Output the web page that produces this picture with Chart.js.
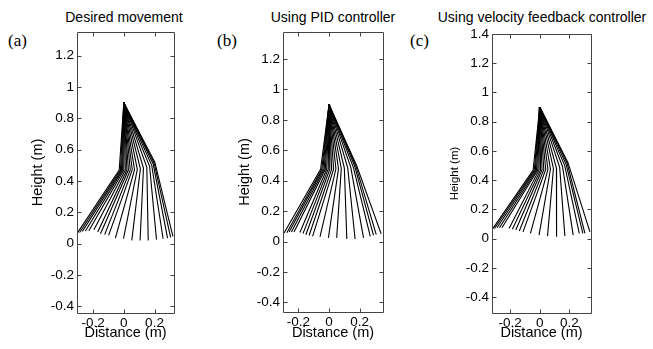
<!DOCTYPE html>
<html>
<head>
<meta charset="utf-8">
<script src="https://cdn.jsdelivr.net/npm/chart.js@4.4.1/dist/chart.umd.min.js"></script>
<style>
  body { margin: 0; background: #fff; width: 653px; height: 349px; position: relative; overflow: hidden;
         font-family: "Liberation Sans", Arial, sans-serif; }
  canvas { position: absolute; top: 0; }
  .ttl { position: absolute; top: 9px; font-size: 14px; line-height: 16px; white-space: nowrap;
         transform: translateX(-50%); color: #000; }
  .tag { position: absolute; top: 31px; font-family: "Liberation Serif", "Times New Roman", serif;
         font-size: 17px; line-height: 20px; color: #000; }
</style>
</head>
<body>
<div class="ttl" style="left:124px">Desired movement</div>
<div class="ttl" style="left:333px">Using PID controller</div>
<div class="ttl" style="left:542px">Using velocity feedback controller</div>
<div class="tag" style="left:8px">(a)</div>
<div class="tag" style="left:217px">(b)</div>
<div class="tag" style="left:410px">(c)</div>
<canvas id="chartA" width="200" height="349" style="left:0px"></canvas>
<canvas id="chartB" width="200" height="349" style="left:205px"></canvas>
<canvas id="chartC" width="243" height="349" style="left:410px"></canvas>
<script>
// hip joint (same for every frame)
const hip = [0, 0.9];

// (a) desired movement
const kneeXA = [-0.030, -0.022, -0.015, -0.008, 0.000, 0.010, 0.020, 0.030, 0.042, 0.055, 0.070, 0.088, 0.108, 0.128, 0.150, 0.168, 0.182, 0.192, 0.198, 0.202];
const kneeYA = [0.470, 0.470, 0.470, 0.470, 0.470, 0.470, 0.470, 0.470, 0.471, 0.472, 0.473, 0.475, 0.478, 0.482, 0.488, 0.494, 0.500, 0.507, 0.514, 0.520];
const footXA = [-0.303, -0.288, -0.270, -0.250, -0.228, -0.195, -0.170, -0.152, -0.125, -0.099, -0.055, -0.002, 0.052, 0.106, 0.159, 0.213, 0.256, 0.285, 0.305, 0.320];
const footYA = [0.068, 0.072, 0.079, 0.081, 0.083, 0.089, 0.075, 0.064, 0.058, 0.053, 0.036, 0.032, 0.021, 0.021, 0.021, 0.026, 0.032, 0.036, 0.040, 0.047];

// (b) PID controller
const kneeXB = [-0.055, -0.047, -0.040, -0.032, -0.024, -0.015, -0.005, 0.005, 0.017, 0.030, 0.045, 0.062, 0.080, 0.100, 0.122, 0.142, 0.158, 0.168, 0.175, 0.180];
const kneeYB = [0.475, 0.475, 0.475, 0.475, 0.475, 0.475, 0.475, 0.476, 0.476, 0.477, 0.478, 0.479, 0.480, 0.482, 0.484, 0.487, 0.490, 0.494, 0.497, 0.500];
const footXB = [-0.293, -0.275, -0.260, -0.245, -0.228, -0.190, -0.170, -0.151, -0.130, -0.107, -0.059, -0.004, 0.050, 0.116, 0.170, 0.225, 0.269, 0.290, 0.308, 0.340];
const footYB = [0.056, 0.058, 0.062, 0.062, 0.062, 0.060, 0.052, 0.045, 0.040, 0.034, 0.030, 0.024, 0.024, 0.017, 0.017, 0.024, 0.034, 0.040, 0.045, 0.050];

// (c) velocity feedback controller
const kneeXC = [-0.045, -0.037, -0.030, -0.022, -0.014, -0.005, 0.005, 0.015, 0.027, 0.040, 0.055, 0.072, 0.092, 0.112, 0.134, 0.153, 0.168, 0.178, 0.185, 0.190];
const kneeYC = [0.470, 0.470, 0.470, 0.470, 0.470, 0.470, 0.470, 0.471, 0.472, 0.473, 0.474, 0.476, 0.479, 0.483, 0.488, 0.494, 0.500, 0.507, 0.514, 0.520];
const footXC = [-0.320, -0.305, -0.288, -0.272, -0.255, -0.207, -0.185, -0.162, -0.138, -0.113, -0.063, -0.005, 0.052, 0.113, 0.169, 0.225, 0.266, 0.290, 0.304, 0.338];
const footYC = [0.064, 0.070, 0.075, 0.075, 0.075, 0.070, 0.065, 0.059, 0.053, 0.047, 0.036, 0.025, 0.018, 0.013, 0.018, 0.025, 0.036, 0.036, 0.036, 0.047];

// tick values
const xTicks = [-0.2, 0, 0.2];
const yTicksAB = [-0.4, -0.2, 0, 0.2, 0.4, 0.6, 0.8, 1, 1.2];
const yTicksC = [-0.4, -0.2, 0, 0.2, 0.4, 0.6, 0.8, 1, 1.2, 1.4];

const fmt = v => String(Number(v.toFixed(1)) || 0);

// box with inward tick marks, like matlab axes
const boxTicks = {
  id: 'boxTicks',
  afterDraw(chart) {
    const ctx = chart.ctx;
    const a = chart.chartArea;
    const x = chart.scales.x, y = chart.scales.y;
    const L = Math.round(a.left) + 0.5, R = Math.round(a.right) + 0.5;
    const T = Math.round(a.top) + 0.5, B = Math.round(a.bottom) + 0.5;
    ctx.save();
    ctx.strokeStyle = '#444';
    ctx.lineWidth = 1;
    ctx.beginPath();
    xTicks.forEach(v => {
      const p = Math.round(x.getPixelForValue(v)) + 0.5;
      ctx.moveTo(p, B); ctx.lineTo(p, B - 4);
      ctx.moveTo(p, T); ctx.lineTo(p, T + 4);
    });
    y.ticks.forEach(t => {
      const p = Math.round(y.getPixelForValue(t.value)) + 0.5;
      ctx.moveTo(L, p); ctx.lineTo(L + 4, p);
      ctx.moveTo(R, p); ctx.lineTo(R - 4, p);
    });
    ctx.moveTo(L, T); ctx.lineTo(R, T); ctx.lineTo(R, B); ctx.lineTo(L, B); ctx.closePath();
    ctx.stroke();
    ctx.restore();
  }
};

function makeLeg(id, kx, ky, fx, fy, opt) {
  const datasets = kx.map((k, i) => ({
    data: [{ x: hip[0], y: hip[1] }, { x: k, y: ky[i] }, { x: fx[i], y: fy[i] }],
    showLine: true,
    borderColor: '#000',
    borderWidth: 1.1,
    pointRadius: 0,
    fill: false
  }));

  new Chart(document.getElementById(id), {
    type: 'scatter',
    data: { datasets },
    options: {
      responsive: false,
      animation: false,
      layout: { padding: { top: opt.top, right: opt.right, left: 0, bottom: 0 } },
      plugins: { legend: { display: false }, tooltip: { enabled: false } },
      scales: {
        x: {
          min: opt.xr[0], max: opt.xr[1],
          afterBuildTicks: s => { s.ticks = xTicks.map(v => ({ value: v })); },
          afterFit: s => { s.height = opt.xh; },
          grid: { display: false, drawTicks: false },
          border: { display: false },
          ticks: { color: '#000', padding: 2, autoSkip: false, maxRotation: 0,
                   font: { family: '"Liberation Sans", Arial', size: 13.5 }, callback: fmt },
          title: { display: true, text: 'Distance (m)', color: '#000',
                   font: { family: '"Liberation Sans", Arial', size: 14.5 }, padding: { top: 0, bottom: 7 } }
        },
        y: {
          min: opt.yr[0], max: opt.yr[1],
          afterBuildTicks: s => { s.ticks = opt.yt.map(v => ({ value: v })); },
          afterFit: s => { s.width = opt.yw; },
          grid: { display: false, drawTicks: false },
          border: { display: false },
          ticks: { color: '#000', padding: 3, autoSkip: false,
                   font: { family: '"Liberation Sans", Arial', size: 13.5 }, callback: fmt },
          title: { display: true, text: 'Height (m)', color: '#000',
                   font: { family: '"Liberation Sans", Arial', size: opt.ytSize }, padding: { top: opt.ytPad, bottom: 0 } }
        }
      }
    },
    plugins: [boxTicks]
  });
}

makeLeg('chartA', kneeXA, kneeYA, footXA, footYA,
  { xr: [-0.305, 0.327], yr: [-0.442, 1.351], yt: yTicksAB, top: 32, right: 26, yw: 77, xh: 36, ytSize: 14.5, ytPad: 28.8 });
makeLeg('chartB', kneeXB, kneeYB, footXB, footYB,
  { xr: [-0.30, 0.352], yr: [-0.463, 1.377], yt: yTicksAB, top: 32, right: 22, yw: 78, xh: 37, ytSize: 14.5, ytPad: 31.3 });
makeLeg('chartC', kneeXC, kneeYC, footXC, footYC,
  { xr: [-0.322, 0.345], yr: [-0.508, 1.40], yt: yTicksC, top: 34, right: 62, yw: 82, xh: 36, ytSize: 11.5, ytPad: 38.1 });
</script>
</body>
</html>
